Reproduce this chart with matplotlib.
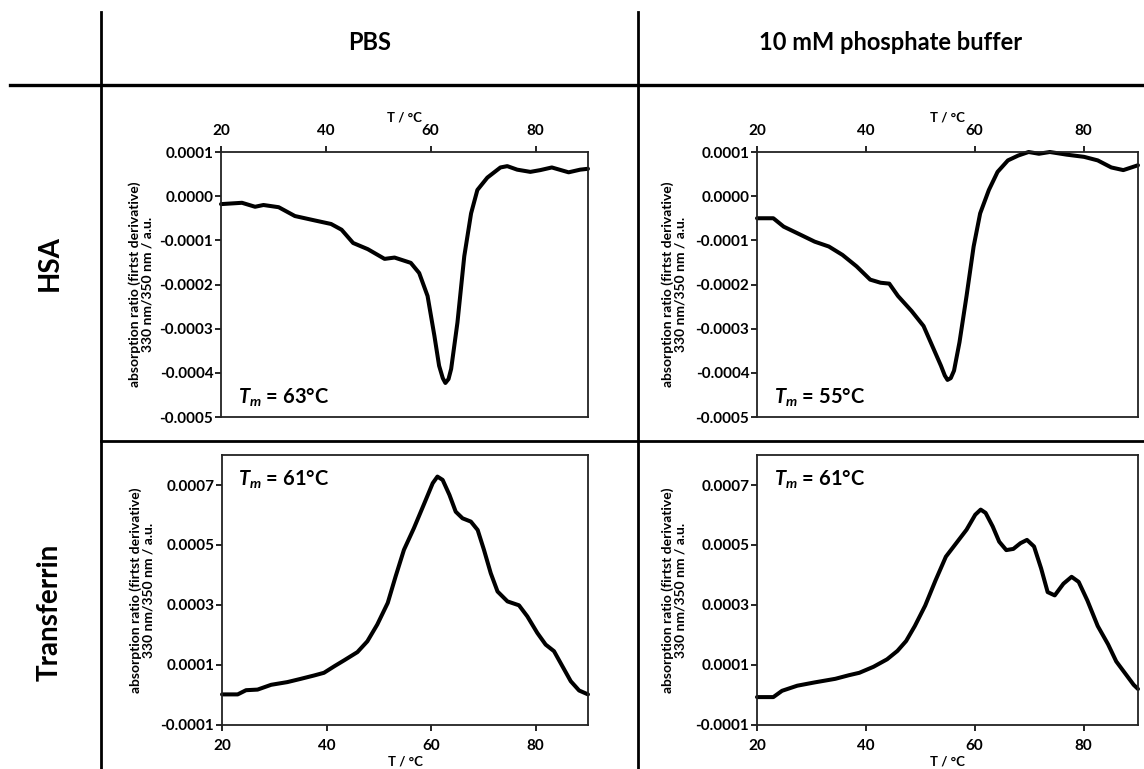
import matplotlib
matplotlib.use("Agg")
import matplotlib.pyplot as plt
from matplotlib.lines import Line2D

plt.rcParams['font.family'] = ['Lato', 'DejaVu Sans']
plt.rcParams['font.weight'] = 'bold'
plt.rcParams['mathtext.fontset'] = 'custom'
plt.rcParams['mathtext.it'] = 'Lato:italic:bold'
plt.rcParams['mathtext.rm'] = 'Lato:bold'

# ---------------- data ----------------
col_titles = ["PBS", "10 mM phosphate buffer"]
row_titles = ["HSA", "Transferrin"]

# HSA in PBS
hsa_pbs_T = [20, 24, 26.5, 28.1, 31, 34.1, 37.9, 41, 43, 45.2, 48, 51.2, 53.1, 56.2, 57.8,
             59.4, 60.7, 61.6, 62.3, 62.8, 63.4, 63.9, 65.1, 66.4, 67.7, 68.9, 70.8, 73.3,
             74.6, 76.5, 79, 80.9, 83.1, 86.3, 88.5, 90]
hsa_pbs_v = [-1.8e-5, -1.5e-5, -2.4e-5, -2.0e-5, -2.5e-5, -4.5e-5, -5.5e-5, -6.3e-5, -7.6e-5,
             -1.06e-4, -1.2e-4, -1.42e-4, -1.39e-4, -1.51e-4, -1.74e-4, -2.26e-4, -3.16e-4,
             -3.84e-4, -4.12e-4, -4.23e-4, -4.14e-4, -3.91e-4, -2.86e-4, -1.36e-4, -3.9e-5,
             1.4e-5, 4.2e-5, 6.5e-5, 6.8e-5, 6.0e-5, 5.5e-5, 5.9e-5, 6.5e-5, 5.4e-5, 6.0e-5,
             6.2e-5]

# HSA in 10 mM phosphate buffer
hsa_pb_T = [20, 23, 24.9, 28.1, 30.6, 33.2, 35.7, 38.3, 40.8, 42.7, 44.3, 45.9, 48.4, 50.6,
            52.2, 53.8, 54.5, 55.0, 55.6, 56.2, 57.2, 58.5, 59.8, 61.0, 62.6, 64.2, 66.1,
            68.0, 69.9, 71.8, 73.8, 76.9, 80.1, 82.6, 85.1, 87.3, 90]
hsa_pb_v = [-5.0e-5, -5.0e-5, -6.9e-5, -8.8e-5, -1.03e-4, -1.14e-4, -1.33e-4, -1.59e-4,
            -1.89e-4, -1.96e-4, -1.98e-4, -2.26e-4, -2.6e-4, -2.94e-4, -3.39e-4, -3.84e-4,
            -4.06e-4, -4.16e-4, -4.12e-4, -3.95e-4, -3.31e-4, -2.26e-4, -1.14e-4, -3.9e-5,
            1.4e-5, 5.5e-5, 8.1e-5, 9.2e-5, 1.0e-4, 9.6e-5, 1.0e-4, 9.4e-5, 8.9e-5, 8.1e-5,
            6.5e-5, 5.9e-5, 7.0e-5]

# Transferrin in PBS
tf_pbs_T = [20, 23, 24.6, 26.8, 29.4, 32.5, 35.1, 37.6, 39.5, 41.5, 43.4, 45.9, 47.8, 49.7,
            51.7, 53.2, 54.8, 56.7, 58.7, 60.3, 61.2, 62.2, 63.5, 64.7, 66.0, 67.6, 68.9,
            70.1, 71.4, 72.7, 74.6, 76.8, 78.4, 80.3, 81.9, 83.5, 85.1, 86.7, 88.3, 90]
tf_pbs_v = [2e-6, 2e-6, 1.6e-5, 1.8e-5, 3.4e-5, 4.3e-5, 5.4e-5, 6.5e-5, 7.4e-5, 9.6e-5,
            1.16e-4, 1.43e-4, 1.79e-4, 2.35e-4, 3.07e-4, 3.95e-4, 4.84e-4, 5.56e-4, 6.39e-4,
            7.06e-4, 7.28e-4, 7.17e-4, 6.67e-4, 6.11e-4, 5.89e-4, 5.78e-4, 5.5e-4, 4.84e-4,
            4.06e-4, 3.45e-4, 3.12e-4, 2.99e-4, 2.62e-4, 2.07e-4, 1.68e-4, 1.46e-4, 9.6e-5,
            4.6e-5, 1.5e-5, 2e-6]

# Transferrin in 10 mM phosphate buffer
tf_pb_T = [20, 23, 24.6, 27.4, 30.6, 34.4, 36.9, 38.8, 41.4, 43.9, 45.8, 47.4, 49.0, 50.9,
           52.8, 54.7, 56.6, 58.5, 60.1, 61.1, 62.0, 63.3, 64.5, 65.8, 67.1, 68.4, 69.6,
           70.9, 72.2, 73.4, 74.7, 76.3, 77.8, 79.1, 80.7, 82.6, 84.5, 86.0, 87.6, 89.2, 90]
tf_pb_v = [-7e-6, -7e-6, 1.4e-5, 3.1e-5, 4.2e-5, 5.4e-5, 6.6e-5, 7.4e-5, 9.4e-5, 1.19e-4,
           1.47e-4, 1.8e-4, 2.3e-4, 2.98e-4, 3.82e-4, 4.61e-4, 5.06e-4, 5.51e-4, 6.01e-4,
           6.18e-4, 6.07e-4, 5.62e-4, 5.11e-4, 4.83e-4, 4.87e-4, 5.06e-4, 5.17e-4, 4.95e-4,
           4.22e-4, 3.43e-4, 3.32e-4, 3.71e-4, 3.94e-4, 3.77e-4, 3.15e-4, 2.3e-4, 1.69e-4,
           1.12e-4, 7.3e-5, 3.4e-5, 2e-5]

tm_labels = [["63°C", "55°C"], ["61°C", "61°C"]]

x_ticks = [20, 40, 60, 80]
hsa_yticks = [0.0001, 0.0, -0.0001, -0.0002, -0.0003, -0.0004, -0.0005]
hsa_ylabels = ["0.0001", "0.0000", "-0.0001", "-0.0002", "-0.0003", "-0.0004", "-0.0005"]
tf_yticks = [0.0007, 0.0005, 0.0003, 0.0001, -0.0001]
tf_ylabels = ["0.0007", "0.0005", "0.0003", "0.0001", "-0.0001"]

ylabel_text = "absorption ratio (firtst derivative)\n330 nm/350 nm / a.u."
xlabel_text = "T / °C"

# ---------------- figure ----------------
W, H = 1144, 769
fig = plt.figure(figsize=(W / 100, H / 100), dpi=100)


def rect(l, r, t, b):
    return [l / W, (H - b) / H, (r - l) / W, (b - t) / H]


# grid lines of the table
fig.add_artist(Line2D([10 / W, 1.0], [1 - 85 / H, 1 - 85 / H], color='black', lw=2.4))
fig.add_artist(Line2D([101 / W, 1.0], [1 - 441 / H, 1 - 441 / H], color='black', lw=2.0))
fig.add_artist(Line2D([101 / W, 101 / W], [0, 1 - 12 / H], color='black', lw=2.0))
fig.add_artist(Line2D([638 / W, 638 / W], [0, 1 - 12 / H], color='black', lw=2.0))

# titles
fig.text(370 / W, 1 - 42 / H, col_titles[0], ha='center', va='center', fontsize=17, weight='bold')
fig.text(891 / W, 1 - 42 / H, col_titles[1], ha='center', va='center', fontsize=17, weight='bold')
fig.text(50 / W, 1 - 263 / H, row_titles[0], ha='center', va='center', fontsize=20,
         weight='bold', rotation=90)
fig.text(50 / W, 1 - 612 / H, row_titles[1], ha='center', va='center', fontsize=20,
         weight='bold', rotation=90)

series = [[(hsa_pbs_T, hsa_pbs_v), (hsa_pb_T, hsa_pb_v)],
          [(tf_pbs_T, tf_pbs_v), (tf_pb_T, tf_pb_v)]]
rects = [[rect(221, 588, 152, 417), rect(757, 1138, 152, 417)],
         [rect(222, 588, 455, 725), rect(757, 1138, 455, 725)]]

for r in range(2):
    for c in range(2):
        ax = fig.add_axes(rects[r][c])
        T, v = series[r][c]
        ax.plot(T, v, color='black', lw=2.9, solid_joinstyle='round', solid_capstyle='round',
                clip_on=False)
        ax.set_xlim(20, 90)
        ax.set_xticks(x_ticks)
        ax.set_xticklabels([str(t) for t in x_ticks])
        if r == 0:
            ax.set_ylim(-0.0005, 0.0001)
            ax.set_yticks(hsa_yticks)
            ax.set_yticklabels(hsa_ylabels)
            ax.xaxis.tick_top()
            ax.xaxis.set_label_position('top')
            ax.set_xlabel(xlabel_text, fontsize=9.5, weight='bold')
            ax.xaxis.set_label_coords(0.5, 1.115)
            tm_y = 0.05
        else:
            ax.set_ylim(-0.0001, 0.0008)
            ax.set_yticks(tf_yticks)
            ax.set_yticklabels(tf_ylabels)
            ax.set_xlabel(xlabel_text, fontsize=9.5, weight='bold')
            ax.xaxis.set_label_coords(0.5, -0.112)
            tm_y = 0.885
        ax.set_ylabel(ylabel_text, fontsize=10, weight='bold', linespacing=1.05)
        ax.yaxis.set_label_coords(-0.185, 0.5)
        ax.tick_params(axis='x', direction='out', length=4, width=1.2, pad=6,
                       labelsize=11)
        ax.tick_params(axis='y', direction='out', length=4, width=1.2, pad=1.5,
                       labelsize=11)
        for lab in ax.get_xticklabels() + ax.get_yticklabels():
            lab.set_fontweight('bold')
        for s in ax.spines.values():
            s.set_linewidth(1.3)
            s.set_color('#222222')
        ax.text(0.045, tm_y, r"$T_m$ = " + tm_labels[r][c], transform=ax.transAxes,
                fontsize=14.5, weight='bold', ha='left', va='baseline')

fig.savefig("out.png", dpi=100)
